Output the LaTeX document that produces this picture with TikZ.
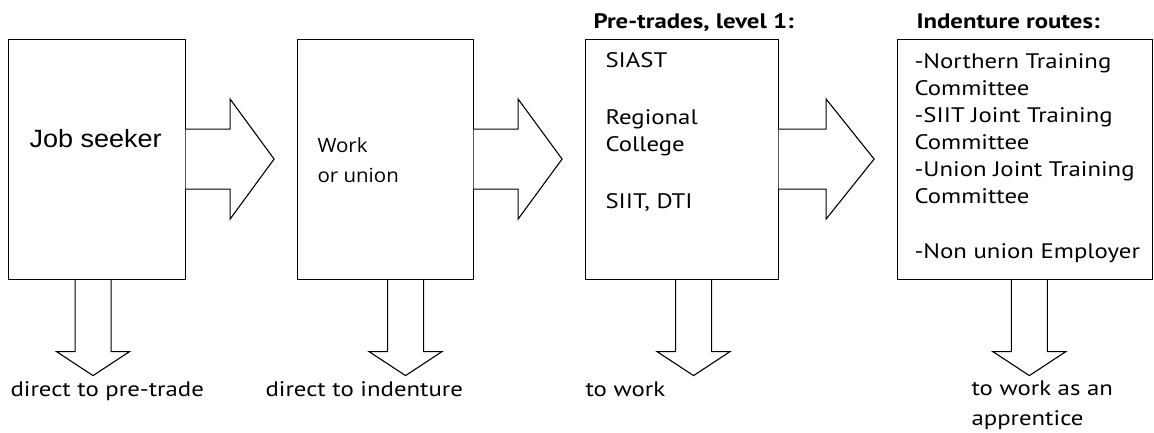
\documentclass[tikz,border=0pt]{standalone}
\usepackage{fontspec}
\usepackage{tikz}
\usetikzlibrary{positioning}
\newfontfamily\gothfont[FakeStretch=1.18]{PT Sans}
\newfontfamily\jobfont[FakeStretch=1.08]{Liberation Sans}
\newfontfamily\workfont[FakeStretch=1.05]{Open Sans}

\begin{document}
\begin{tikzpicture}[x=1pt,y=-1pt,line width=1.1pt,
      stage/.style={draw,rectangle,anchor=north west,inner sep=0pt,minimum height=240pt},
      lbl/.style={anchor=base west,inner sep=0pt,font=\gothfont\fontsize{21}{25}\selectfont},
      ttl/.style={lbl,font=\gothfont\bfseries\fontsize{21}{25}\selectfont},
      wlbl/.style={anchor=base west,inner sep=0pt,font=\workfont\fontsize{19.5}{23}\selectfont}]
    \useasboundingbox (0,0) rectangle (1154,432);
    % the four stages
    \node[stage,minimum width=177pt] (seeker) at (8,38.5) {};
    \node[stage,minimum width=176pt] (union) at (297,38.5) {};
    \node[stage,minimum width=193pt] (pretrade) at (585,38.5) {};
    \node[stage,minimum width=255pt] (indenture) at (897,38.5) {};
    % block arrows to the right
    \foreach \b/\s/\h in {seeker/44/44,union/44/44,pretrade/47/48}
      \filldraw[fill=white] ([xshift=-0.6pt]\b.east) ++(0,-30) -- ++(\s+0.6,0) -- ++(0,-30)
        -- ++(\h,60) -- ++(-\h,60) -- ++(0,-30) -- ++(-\s-0.6,0);
    % block arrows down
    \foreach \b/\dx in {seeker/-4,union/20,pretrade/11.5,indenture/4.3}
      \draw ([xshift=\dx pt]\b.south) ++(-18,0) -- ++(0,72) -- ++(-18.5,0)
        -- ++(36.5,24) -- ++(36.5,-24) -- ++(-18.5,0) -- ++(0,-72);
    % texts in the stages
    \node[anchor=base west,inner sep=0pt,font=\jobfont\fontsize{25}{30}\selectfont] (jobtxt) at (29,147) {Job seeker};
    \node[wlbl] (worktxt) at (317,152) {Work};
    \node[wlbl] (oruniontxt) at (317,182) {or union};
    \node[ttl] (pttitle) at (593,28) {Pre-trades, level 1:};
    \node[ttl] (irtitle) at (916,28) {Indenture routes:};
    \foreach \t/\y [count=\i] in {SIAST/67,Regional/124,College/151,{SIIT, DTI}/208}
      \node[lbl] (pt\i) at (605,\y) {\t};
    \foreach \t/\y [count=\i] in {-Northern Training/68,Committee/95,-SIIT Joint Training/122,
        Committee/149,-Union Joint Training/176,Committee/203,-Non union Employer/258}
      \node[lbl] (ir\i) at (914,\y) {\t};
    % where each one leads
    \node[lbl] (out1) at (10,396) {direct to pre-trade};
    \node[lbl] (out2) at (265,396) {direct to indenture};
    \node[lbl] (out3) at (585,396) {to work};
    \node[lbl] (out4) at (971,395) {to work as an};
    \node[lbl] (out5) at (971,425) {apprentice};
\end{tikzpicture}
\end{document}
